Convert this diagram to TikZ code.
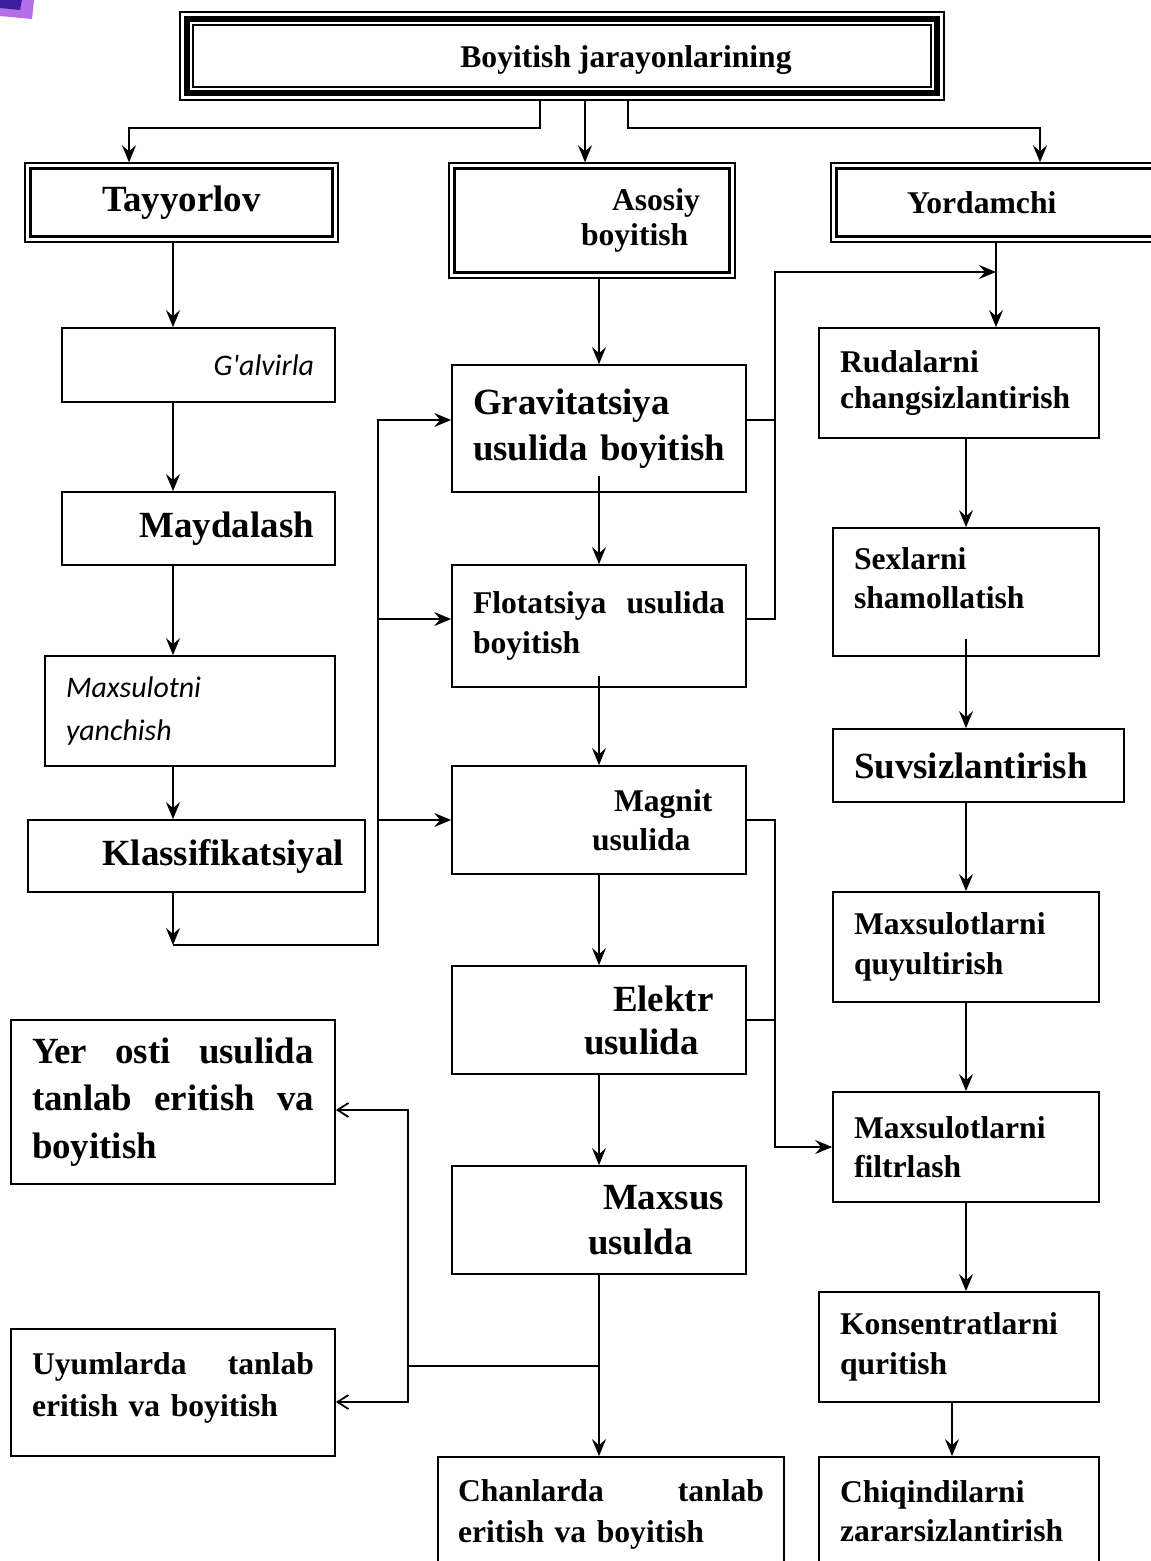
\documentclass[tikz,border=0pt]{standalone}
\usepackage{fontspec}
\setmainfont{Liberation Serif}
\newfontfamily\calfont{Carlito}
\usetikzlibrary{arrows.meta}

\newcommand{\fbig}{\fontsize{21pt}{26pt}\selectfont\bfseries}
\newcommand{\fmid}{\fontsize{18pt}{22.5pt}\selectfont\bfseries}
\newcommand{\fcal}{\fontsize{17pt}{24pt}\selectfont\calfont\itshape}

\definecolor{purpA}{HTML}{B46EE6}
\definecolor{purpB}{HTML}{3A1E9C}

\tikzset{
  box/.style={draw, rectangle, line width=1pt, inner xsep=0.42cm, inner ysep=2pt},
  conn/.style={line width=1pt},
  arr/.style={conn, -{Stealth[length=3.4mm,width=2.8mm,inset=1.2mm]}},
  barb/.style={conn, -{Straight Barb[length=2.2mm,width=2.8mm]}},
}

\begin{document}
\begin{tikzpicture}[x=0.02cm, y=-0.02cm]
\useasboundingbox (0,0) rectangle (1151,1561);

% corner of a picture
\fill[purpA] (0,0) -- (34,0) -- (32,19) -- (0,16) -- cycle;
\fill[purpB] (0,0) -- (22,0) -- (20,10) -- (0,8) -- cycle;

% title
\node[box, minimum width=15.28cm, minimum height=1.76cm, text height=0.52cm, text depth=0.04cm, font=\fmid] (top) at (562,56) {\hspace*{2.56cm}Boyitish jarayonlarining};
\draw[line width=3.2pt] ([shift={(8,-8)}]top.south west) rectangle ([shift={(-8,8)}]top.north east);
\draw[line width=1pt] ([shift={(14,-14)}]top.south west) rectangle ([shift={(-14,14)}]top.north east);

% three groups
\node[box, line width=0.8pt, minimum width=6.26cm, minimum height=1.58cm, font=\fbig] (tay) at (181.5,202.5) {Tayyorlov};
\node[box, line width=0.8pt, text width=4.88cm, minimum height=2.3cm, align=left, font=\fmid] (aso) at (592,220.5) {\hspace*{2.84cm}Asosiy\\[-2.5pt]\hspace*{2.22cm}boyitish};
\node[box, line width=0.8pt, text width=5.74cm, minimum height=1.58cm, align=left, font=\fmid] (yor) at (995.5,202.5) {\hspace*{1.1cm}Yordamchi};
\draw[line width=1.8pt] ([shift={(6,-6)}]tay.south west) rectangle ([shift={(-6,6)}]tay.north east);
\draw[line width=1.8pt] ([shift={(6,-6)}]aso.south west) rectangle ([shift={(-6,6)}]aso.north east);
\draw[line width=1.8pt] ([shift={(6,-6)}]yor.south west) rectangle ([shift={(-6,6)}]yor.north east);

% left column
\node[box, text width=4.62cm, minimum height=1.48cm, align=right, font=\fcal] (gal) at (198.5,365) {G\textquotesingle alvirla};
\node[box, text width=4.62cm, minimum height=1.46cm, align=right, font=\fbig] (may) at (198.5,528.5) {Maydalash};
\node[box, text width=4.96cm, minimum height=2.2cm, align=left, font=\fcal] (yan) at (190,711) {Maxsulotni\\yanchish};
\node[box, text width=5.9cm, minimum height=1.44cm, align=right, font=\fbig] (kla) at (196.5,856) {Klassifikatsiyal};

% middle column
\node[box, text width=5.16cm, inner xsep=0.36cm, minimum height=2.54cm, align=left, font=\fbig] (gra) at (599,428.5) {\hspace*{0.06cm}Gravitatsiya\\\hspace*{0.06cm}\mbox{usulida boyitish}};
\node[box, text width=5.04cm, minimum height=2.44cm, align=left, font=\fmid] (flo) at (599,626) {Flotatsiya\hfill usulida\\boyitish};
\node[box, text width=5.04cm, minimum height=2.16cm, align=left, font=\fmid] (mag) at (599,820) {\hspace*{2.82cm}Magnit\\\hspace*{2.38cm}usulida};
\node[box, text width=5.04cm, minimum height=2.16cm, align=left, font=\fbig] (ele) at (599,1020) {\hspace*{2.8cm}Elektr\\[-1.5pt]\hspace*{2.22cm}usulida};
\node[box, text width=5.04cm, minimum height=2.16cm, align=left, font=\fbig] (mxs) at (599,1220) {\hspace*{2.6cm}Maxsus\\\hspace*{2.3cm}usulda};

% leaching
\node[box, text width=5.64cm, minimum height=3.28cm, align=left, font=\fbig] (yer) at (173,1102) {Yer\hfill osti\hfill usulida\\[1pt]tanlab\hfill eritish\hfill va\\[1pt]boyitish};
\node[box, text width=5.64cm, minimum height=2.54cm, align=left, font=\fmid] (uyu) at (173,1392.5) {Uyumlarda\hfill tanlab\\[1pt]eritish va boyitish\\[-13.5pt]\mbox{}};
\node[box, text width=6.12cm, inner xsep=0.4cm, minimum height=2.36cm, align=left, font=\fmid] (cha) at (611,1516) {Chanlarda\hfill tanlab\\[0.7pt]eritish va boyitish\\[-17pt]\mbox{}};

% right column
\node[box, text width=4.76cm, minimum height=2.2cm, align=left, font=\fmid] (rud) at (959,383) {Rudalarni\\[-2pt]changsizlantirish};
\node[box, text width=4.48cm, minimum height=2.56cm, align=left, font=\fmid] (sex) at (966,592) {Sexlarni\\shamollatish\\[-6.6pt]\mbox{}};
\node[box, text width=4.98cm, minimum height=1.46cm, align=left, font=\fbig] (suv) at (978.5,765.5) {Suvsizlantirish};
\node[box, text width=4.48cm, minimum height=2.2cm, align=left, font=\fmid] (quy) at (966,947) {Maxsulotlarni\\quyultirish};
\node[box, text width=4.48cm, minimum height=2.2cm, align=left, font=\fmid] (fil) at (966,1147) {Maxsulotlarni\\filtrlash};
\node[box, text width=4.76cm, minimum height=2.2cm, align=left, font=\fmid] (kon) at (959,1347) {Konsentratlarni\\quritish};
\node[box, text width=4.76cm, minimum height=2.36cm, align=left, font=\fmid] (chi) at (959,1516) {Chiqindilarni\\zararsizlantirish\\[-17pt]\mbox{}};

% bends
\coordinate (jL) at (540,128);
\coordinate (jR) at (628,128);
\coordinate (xA) at (585,0);
\coordinate (xL) at (173,0);
\coordinate (kL) at (173,945);
\coordinate (kB) at (378,945);
\coordinate (fT) at (775,272);
\coordinate (fY) at (996,272);
\coordinate (fB) at (775,0);
\coordinate (jB) at (599,1366);
\coordinate (jBL) at (408,1366);

% from the title
\draw[arr] (top.south -| jL) -- (jL) -| ([xshift=-1.05cm]tay.north);
\draw[arr] (top.south -| xA) -- (aso.north -| xA);
\draw[arr] (top.south -| jR) -- (jR) -| ([xshift=0.89cm]yor.north);

% left column
\draw[arr] (tay.south -| xL) -- (gal.north -| xL);
\draw[arr] (gal.south -| xL) -- (may.north -| xL);
\draw[arr] (may.south -| xL) -- (yan.north -| xL);
\draw[arr] (yan.south -| xL) -- (kla.north -| xL);
\draw[arr] (kla.south -| xL) -- (kL);
\draw[arr] (kL) -- (kB) |- ([yshift=0.17cm]gra.west);
\draw[arr] ([yshift=0.14cm]flo.west -| kB) -- ([yshift=0.14cm]flo.west);
\draw[arr] (mag.west -| kB) -- (mag.west);

% middle column
\draw[arr] (aso.south -| gra.north) -- (gra.north);
\draw[arr] ([yshift=0.34cm]gra.south) -- (flo.north);
\draw[arr] ([yshift=0.24cm]flo.south) -- (mag.north);
\draw[arr] (mag.south) -- (ele.north);
\draw[arr] (ele.south) -- (mxs.north);
\draw[arr] (mxs.south) -- (cha.north -| mxs.south);
\draw[conn] (jB) -- (jBL);
\draw[barb] (jBL) |- ([yshift=-0.16cm]yer.east);
\draw[barb] (jBL) |- ([yshift=-0.19cm]uyu.east);

% to the right column
\draw[arr] ([yshift=0.17cm]gra.east) -| (fT) -- (fY);
\draw[conn] ([yshift=0.14cm]flo.east) -| (fT);
\draw[arr] (mag.east) -- (mag.east -| fB) |- (fil.west);
\draw[conn] (ele.east) -- (ele.east -| fB);

% right column
\draw[arr] (yor.south -| fY) -- (rud.north -| fY);
\draw[arr] ([xshift=0.14cm]rud.south) -- (sex.north);
\draw[arr] ([yshift=0.36cm]sex.south) -- (suv.north -| sex.south);
\draw[arr] (suv.south -| quy.north) -- (quy.north);
\draw[arr] (quy.south) -- (fil.north);
\draw[arr] (fil.south) -- (kon.north -| fil.south);
\draw[arr] ([xshift=-0.14cm]kon.south) -- ([xshift=-0.14cm]chi.north);
\end{tikzpicture}
\end{document}
